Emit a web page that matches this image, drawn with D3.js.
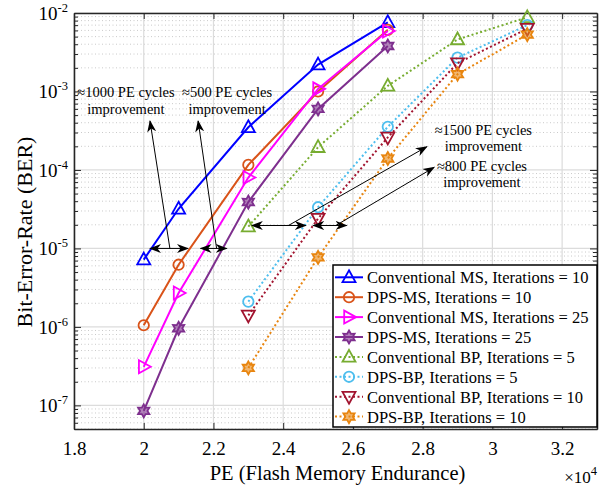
<!DOCTYPE html>
<html>
<head>
<meta charset="utf-8">
<script src="https://d3js.org/d3.v7.min.js"></script>
<style>
  body { margin: 0; background: #fff; }
  text { font-family: "Liberation Serif", "Times New Roman", serif; fill: #000; }
</style>
</head>
<body>
<div id="chart"></div>
<script>
// PE cycles (x 10^4)
var msX = [2.0, 2.1, 2.3, 2.5, 2.7];
var bpX = [2.3, 2.5, 2.7, 2.9, 3.1];

// BER values
var convMS10 = [7.2e-6, 3.2e-5, 3.5e-4, 2.2e-3, 7.6e-3];
var dpsMS10  = [1.05e-6, 6.2e-6, 1.16e-4, 1.0e-3, 6.1e-3];
var convMS25 = [3.1e-7, 2.7e-6, 8.0e-5, 1.08e-3, 5.9e-3];
var dpsMS25  = [8.5e-8, 9.6e-7, 3.9e-5, 6.0e-4, 3.8e-3];
var convBP5  = [1.9e-5, 1.95e-4, 1.18e-3, 4.6e-3, 8.8e-3];
var dpsBP5   = [2.1e-6, 3.35e-5, 3.55e-4, 2.7e-3, 7.0e-3];
var convBP10 = [1.4e-6, 2.4e-5, 2.6e-4, 2.3e-3, 6.3e-3];
var dpsBP10  = [3.0e-7, 7.7e-6, 1.4e-4, 1.66e-3, 5.3e-3];

var seriesNames = [
  "Conventional MS, Iterations = 10",
  "DPS-MS, Iterations = 10",
  "Conventional MS, Iterations = 25",
  "DPS-MS, Iterations = 25",
  "Conventional BP, Iterations = 5",
  "DPS-BP, Iterations = 5",
  "Conventional BP, Iterations = 10",
  "DPS-BP, Iterations = 10"
];

var xTicks = [1.8, 2.0, 2.2, 2.4, 2.6, 2.8, 3.0, 3.2];
var yTicks = [1e-7, 1e-6, 1e-5, 1e-4, 1e-3, 1e-2];

// annotation texts
var noteLeft1 = ["\u22481000 PE cycles", "improvement"];
var noteLeft2 = ["\u2248500 PE cycles", "improvement"];
var noteRight1 = ["\u22481500 PE cycles", "improvement"];
var noteRight2 = ["\u2248800 PE cycles", "improvement"];

var series = [
  { name: seriesNames[0], x: msX, y: convMS10, color: "#0000FF", marker: "tri-up",    dotted: false },
  { name: seriesNames[1], x: msX, y: dpsMS10,  color: "#D95319", marker: "circle",    dotted: false },
  { name: seriesNames[2], x: msX, y: convMS25, color: "#FF00FF", marker: "tri-right", dotted: false },
  { name: seriesNames[3], x: msX, y: dpsMS25,  color: "#7E2F8E", marker: "hexagram",  dotted: false },
  { name: seriesNames[4], x: bpX, y: convBP5,  color: "#77AC30", marker: "tri-up",    dotted: true },
  { name: seriesNames[5], x: bpX, y: dpsBP5,   color: "#4DBEEE", marker: "circle",    dotted: true },
  { name: seriesNames[6], x: bpX, y: convBP10, color: "#A2142F", marker: "tri-down",  dotted: true },
  { name: seriesNames[7], x: bpX, y: dpsBP10,  color: "#E8850F", marker: "hexagram",  dotted: true }
];

var width = 613;
var height = 487;
var plotLeft = 74, plotRight = 597, plotTop = 13, plotBottom = 429;

var svg = d3.select("#chart").append("svg")
    .attr("width", width)
    .attr("height", height);

var x = d3.scaleLinear().domain([1.8, 3.3]).range([plotLeft, plotRight]);
var y = d3.scaleLog().domain([5e-8, 1e-2]).range([plotBottom, plotTop]);

// minor log values
var minorY = [];
for (var e = -8; e <= -3; e++) {
  for (var m = 2; m <= 9; m++) {
    var v = m * Math.pow(10, e);
    if (v >= 5e-8 && v <= 1e-2) minorY.push(v);
  }
}

// grid
var grid = svg.append("g");
grid.selectAll(".minor").data(minorY).enter().append("line")
    .attr("x1", plotLeft).attr("x2", plotRight)
    .attr("y1", d => y(d)).attr("y2", d => y(d))
    .style("stroke", "#bdbdbd").style("stroke-width", 0.8)
    .style("stroke-dasharray", "1,2.5");
grid.selectAll(".majorY").data(yTicks).enter().append("line")
    .attr("x1", plotLeft).attr("x2", plotRight)
    .attr("y1", d => y(d)).attr("y2", d => y(d))
    .style("stroke", "#dcdcdc").style("stroke-width", 1.2);
grid.selectAll(".majorX").data(xTicks).enter().append("line")
    .attr("x1", d => x(d)).attr("x2", d => x(d))
    .attr("y1", plotTop).attr("y2", plotBottom)
    .style("stroke", "#dcdcdc").style("stroke-width", 1.2);

// axes (ticks inside, box style)
var axisColor = "#262626";
var bottomAxis = d3.axisBottom(x).tickValues(xTicks).tickSizeInner(-6).tickSizeOuter(0).tickFormat(d3.format("~g"));
var topAxis = d3.axisTop(x).tickValues(xTicks).tickSizeInner(-6).tickSizeOuter(0).tickFormat("");
var leftAxis = d3.axisLeft(y).tickValues(yTicks).tickSizeInner(-7).tickSizeOuter(0).tickFormat("");
var rightAxis = d3.axisRight(y).tickValues(yTicks).tickSizeInner(-7).tickSizeOuter(0).tickFormat("");
var leftMinor = d3.axisLeft(y).tickValues(minorY).tickSizeInner(-4).tickSizeOuter(0).tickFormat("");
var rightMinor = d3.axisRight(y).tickValues(minorY).tickSizeInner(-4).tickSizeOuter(0).tickFormat("");

var gx = svg.append("g").attr("transform", "translate(0," + plotBottom + ")").call(bottomAxis);
gx.attr("font-family", null);
gx.selectAll("text").attr("y", 26).attr("dy", 0).style("font-size", "19px").attr("fill", "#000");
svg.append("g").attr("transform", "translate(0," + plotTop + ")").call(topAxis);
svg.append("g").attr("transform", "translate(" + plotLeft + ",0)").call(leftAxis);
svg.append("g").attr("transform", "translate(" + plotRight + ",0)").call(rightAxis);
svg.append("g").attr("transform", "translate(" + plotLeft + ",0)").call(leftMinor);
svg.append("g").attr("transform", "translate(" + plotRight + ",0)").call(rightMinor);
svg.selectAll(".domain").style("stroke", axisColor).style("stroke-width", 1.3);
svg.selectAll(".tick line").style("stroke", axisColor).style("stroke-width", 1);

// y tick labels 10^n
var yLab = svg.append("g").selectAll("text").data(yTicks).enter().append("text")
    .attr("x", plotLeft - 6)
    .attr("y", d => y(d) + 7)
    .attr("text-anchor", "end")
    .style("font-size", "19px");
yLab.append("tspan").text("10");
yLab.append("tspan").attr("dy", -8).style("font-size", "12.5px")
    .text(d => "-" + Math.round(-Math.log10(d)));

// x exponent
var xe = svg.append("text").attr("x", plotRight).attr("y", 483)
    .attr("text-anchor", "end").style("font-size", "17px");
xe.append("tspan").text("\u00d710");
xe.append("tspan").attr("dy", -8).style("font-size", "12.5px").text("4");

// axis titles
svg.append("text")
    .attr("x", (plotLeft + plotRight) / 2 + 2)
    .attr("y", 480)
    .attr("text-anchor", "middle")
    .style("font-size", "20.5px")
    .text("PE (Flash Memory Endurance)");
svg.append("text")
    .attr("transform", "translate(32,232)rotate(-90)")
    .attr("text-anchor", "middle")
    .style("font-size", "22px")
    .text("Bit-Error-Rate (BER)");

// marker paths
function markerPath(type) {
  if (type === "circle") return d3.symbol().type(d3.symbolCircle).size(85)();
  if (type === "tri-up") return "M0,-7L6.5,4.8L-6.5,4.8Z";
  if (type === "tri-down") return "M0,7L6.5,-4.8L-6.5,-4.8Z";
  if (type === "tri-right") return "M7,0L-4.8,6.5L-4.8,-6.5Z";
  if (type === "hexagram") {
    var pts = [];
    for (var i = 0; i < 12; i++) {
      var r = (i % 2 === 0) ? 6.5 : 3.7;
      var a = -Math.PI / 2 + i * Math.PI / 6;
      pts.push([r * Math.cos(a), r * Math.sin(a)]);
    }
    return "M" + pts.join("L") + "Z";
  }
}

var plot = svg.append("g");
var line = d3.line().x(d => x(d[0])).y(d => y(d[1]));

series.forEach(function(s) {
  var pts = s.x.map((xv, i) => [xv, s.y[i]]);
  plot.append("path")
      .datum(pts)
      .attr("d", line)
      .style("fill", "none")
      .style("stroke", s.color)
      .style("stroke-width", 2)
      .style("stroke-dasharray", s.dotted ? "2,2.5" : null);
  plot.selectAll(null).data(pts).enter().append("path")
      .attr("d", markerPath(s.marker))
      .attr("transform", d => "translate(" + x(d[0]) + "," + y(d[1]) + ")")
      .style("fill", s.marker === "hexagram" ? s.color : "none")
      .style("fill-opacity", s.marker === "hexagram" ? 0.6 : 1)
      .style("stroke", s.color)
      .style("stroke-width", 1.8);
});

// arrows
svg.append("defs").append("marker")
    .attr("id", "head")
    .attr("viewBox", "0 -5 12 10")
    .attr("refX", 11).attr("refY", 0)
    .attr("markerWidth", 12).attr("markerHeight", 10)
    .attr("markerUnits", "userSpaceOnUse")
    .attr("orient", "auto-start-reverse")
    .append("path")
    .attr("d", "M0,-4.5L12,0L0,4.5L3.5,0Z")
    .style("fill", "#000");

function arrow(x1, y1, x2, y2, both) {
  svg.append("line")
      .attr("x1", x(x1)).attr("y1", y(y1))
      .attr("x2", x(x2)).attr("y2", y(y2))
      .style("stroke", "#000").style("stroke-width", 1)
      .attr("marker-end", "url(#head)")
      .attr("marker-start", both ? "url(#head)" : null);
}

// left annotations
arrow(2.018, 1e-5, 2.127, 1e-5, true);
arrow(2.163, 1e-5, 2.238, 1e-5, true);
arrow(2.075, 1e-5, 2.018, 4.2e-4, false);
arrow(2.209, 1e-5, 2.156, 4.2e-4, false);
// right annotations
arrow(2.310, 1.96e-5, 2.465, 1.96e-5, true);
arrow(2.486, 1.96e-5, 2.582, 1.96e-5, true);
arrow(2.415, 1.96e-5, 2.812, 1.98e-4, false);
arrow(2.551, 1.96e-5, 2.833, 1.08e-4, false);

function note(lines, xc, yBase, yBase2) {
  svg.append("text").attr("x", x(xc)).attr("y", y(yBase))
      .attr("text-anchor", "middle").style("font-size", "14.5px").text(lines[0]);
  svg.append("text").attr("x", x(xc)).attr("y", y(yBase2))
      .attr("text-anchor", "middle").style("font-size", "14.5px").text(lines[1]);
}
note(noteLeft1, 1.949, 8.4e-4, 5.2e-4);
note(noteLeft2, 2.239, 8.4e-4, 5.2e-4);
note(noteRight1, 2.974, 2.82e-4, 1.72e-4);
note(noteRight2, 2.970, 9.8e-5, 6.1e-5);

// legend
var legX = 333, legY = 265, legW = 264, legH = 162, rowH = 19.9;
var legend = svg.append("g").attr("transform", "translate(" + legX + "," + legY + ")");
legend.append("rect")
    .attr("width", legW).attr("height", legH)
    .style("fill", "#fff").style("stroke", "#000").style("stroke-width", 1.5);
var rows = legend.selectAll(".row").data(series).enter().append("g")
    .attr("transform", (d, i) => "translate(0," + (12.3 + i * rowH) + ")");
rows.append("line")
    .attr("x1", 2).attr("x2", 30)
    .style("stroke", d => d.color).style("stroke-width", 2)
    .style("stroke-dasharray", d => d.dotted ? "2,2.5" : null);
rows.append("path")
    .attr("d", d => markerPath(d.marker))
    .attr("transform", "translate(16,0)")
    .style("fill", d => d.marker === "hexagram" ? d.color : "none")
    .style("fill-opacity", d => d.marker === "hexagram" ? 0.6 : 1)
    .style("stroke", d => d.color).style("stroke-width", 1.8);
rows.append("text")
    .attr("x", 34).attr("y", 6)
    .style("font-size", "16.5px")
    .text(d => d.name);
</script>
</body>
</html>
